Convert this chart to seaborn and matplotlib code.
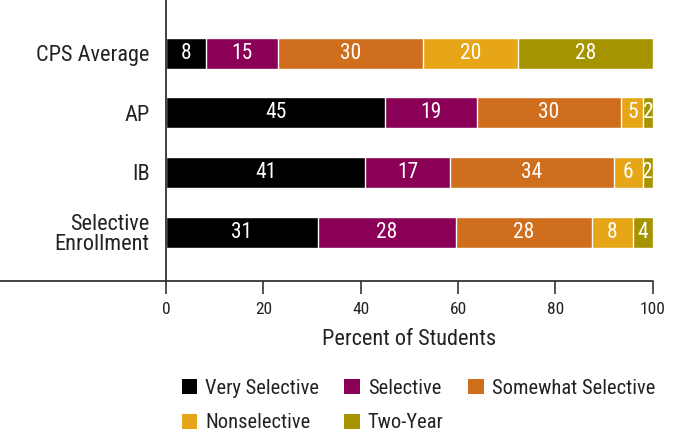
import numpy as np
import pandas as pd
import seaborn as sns
import matplotlib.pyplot as plt
from matplotlib.patches import Patch

# data (percent of students)
programs = ['CPS Average', 'AP', 'IB', 'Selective\nEnrollment']
very_selective = [8.2, 45.0, 40.9, 31.2]
selective = [14.9, 18.9, 17.4, 28.3]
somewhat_selective = [29.6, 29.6, 33.7, 28.0]
nonselective = [19.7, 4.6, 5.9, 8.4]
two_year = [27.6, 1.9, 2.1, 4.1]

categories = ['Very Selective', 'Selective', 'Somewhat Selective', 'Nonselective', 'Two-Year']
palette = ['#000000', '#8A0057', '#CF6E1D', '#E6A617', '#A59400']

sns.set_theme(style='white')
plt.rcParams['font.family'] = ['Roboto Condensed', 'Roboto', 'DejaVu Sans']
text_color = '#222222'

df = pd.DataFrame({
    'Program': programs,
    'Very Selective': very_selective,
    'Selective': selective,
    'Somewhat Selective': somewhat_selective,
    'Nonselective': nonselective,
    'Two-Year': two_year,
})
cum = df[categories].cumsum(axis=1)

fig = plt.figure(figsize=(6.75, 4.34), dpi=100)
ax = fig.add_axes([0.246, 0.3525, 0.721, 0.6475])

# stacked bars: draw cumulative totals from the largest down
for cat, col in reversed(list(zip(categories, palette))):
    sns.barplot(x=cum[cat], y=df['Program'], color=col, orient='h',
                width=0.52, saturation=1, ax=ax)

# segment labels
for i in range(len(programs)):
    left = 0
    for cat in categories:
        v = df.loc[i, cat]
        ax.text(left + v / 2, i, f'{v:.0f}', color='white', ha='center',
                va='center', fontsize=15.5)
        left += v

ax.set_xlim(0, 100)
ax.set_ylim(3.82, -0.89)
ax.set_xticks([0, 20, 40, 60, 80, 100])
ax.set_xlabel('Percent of Students', fontsize=16, color=text_color, labelpad=9)
ax.set_ylabel('')

for s in ['top', 'right', 'bottom']:
    ax.spines[s].set_visible(False)
ax.spines['left'].set_color('#333333')
ax.spines['left'].set_linewidth(1.3)
ax.axhline(3.82, xmin=-0.341, xmax=1, color='#333333', lw=1.3, clip_on=False)

ax.tick_params(axis='x', direction='out', length=9, width=1.2, color='#333333',
               labelsize=12.5, labelcolor=text_color, pad=6, bottom=True)
ax.tick_params(axis='y', length=0, labelsize=16, labelcolor=text_color, pad=12)
for lab in ax.get_yticklabels():
    lab.set_horizontalalignment('right')
    lab.set_linespacing(0.95)

# legend laid out row-wise like the reference
order = [0, 3, 1, 4, 2]
handles = [Patch(facecolor=palette[k], edgecolor='none', label=categories[k]) for k in order]
fig.legend(handles=handles, ncol=3, loc='center', bbox_to_anchor=(0.62, 0.065),
           frameon=False, fontsize=14.8, handlelength=0.75, handleheight=0.75,
           handletextpad=0.4, columnspacing=1.2, labelspacing=0.75,
           labelcolor=text_color)

fig.savefig('out.png', dpi=100)
